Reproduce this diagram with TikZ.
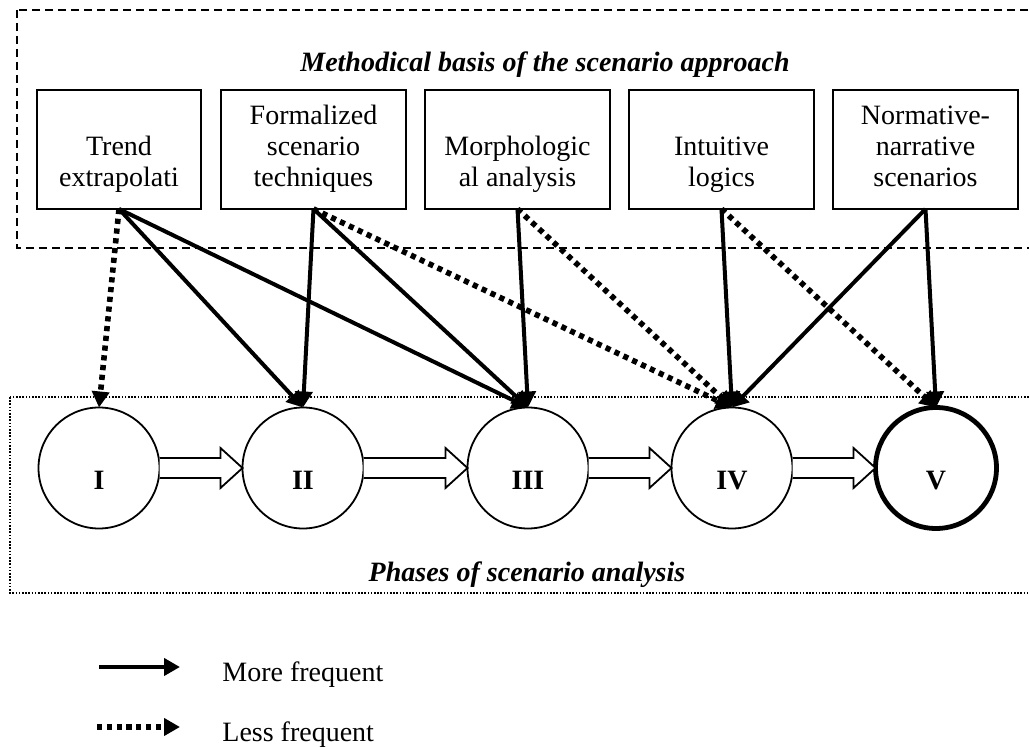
\documentclass[tikz,border=0pt]{standalone}
\usepackage{fontspec}
\setmainfont{Liberation Serif}
\usetikzlibrary{arrows.meta,calc}

% hollow flow arrow from the east side of one phase to the west side of the next
\newcommand\flowarrow[2]{%
  \filldraw[flow] ($(#1.east)+(0,-10)$) -- ($(#2.west)+(-22,-10)$)
    -- ($(#2.west)+(-22,-20)$) -- (#2.west) -- ($(#2.west)+(-22,20)$)
    -- ($(#2.west)+(-22,10)$) -- ($(#1.east)+(0,10)$);}

\begin{document}
\begin{tikzpicture}[x=0.5pt,y=-0.5pt,
  basefont/.style={font=\fontsize{14}{15.5}\selectfont},
  heading/.style={font=\fontsize{14}{15.5}\selectfont\bfseries\itshape,anchor=base,inner sep=0pt},
  method/.style={draw,line width=0.8pt,minimum width=92.5pt,minimum height=59.5pt,
    inner sep=0pt,outer sep=0pt,align=center,font=\fontsize{14}{15.5}\selectfont},
  phase/.style={circle,draw,fill=white,line width=0.9pt,minimum size=60.5pt,
    inner sep=0pt,outer sep=0pt},
  numeral/.style={font=\fontsize{14}{15.5}\selectfont\bfseries,anchor=base,inner sep=0pt},
  often/.style={line width=2pt,-{Triangle[length=8pt,width=8.5pt]}},
  seldom/.style={line width=2.8pt,dash pattern=on 2.6pt off 2.3pt,-{Triangle[length=8pt,width=8.5pt]}},
  flow/.style={draw,fill=white,line width=0.9pt},
  outerframe/.style={line width=0.75pt,dash pattern=on 4pt off 2.5pt},
  innerframe/.style={line width=0.8pt,dash pattern=on 0.8pt off 0.8pt},
]
\useasboundingbox (0,0) rectangle (1029,747);
\clip (0,0) rectangle (1029,747);

% frames of the two levels
\draw[outerframe] (17,10) rectangle (1045,248);
\draw[innerframe] (10,397) rectangle (1045,593);

\node[heading] (topic) at (545,72) {Methodical basis of the scenario approach};
\node[heading] (phases) at (527,582) {Phases of scenario analysis};

% methods
\node[method,minimum width=82pt] (b1) at (119,149.5) {\strut\\\strut Trend\\\strut extrapolati};
\node[method] (b2) at (313.5,149.5) {\strut Formalized\\\strut scenario\\\strut techniques};
\node[method] (b3) at (517.5,149.5) {\strut\\\strut Morphologic\\\strut al analysis};
\node[method] (b4) at (721.5,149.5) {\strut\\\strut Intuitive\\\strut logics};
\node[method] (b5) at (925.5,149.5) {\strut Normative-\\\strut narrative\\\strut scenarios};

% phases
\node[phase] (c1) at (99,468) {};
\node[phase] (c2) at (303,468) {};
\node[phase] (c3) at (528,468) {};
\node[phase] (c4) at (732,468) {};
\node[phase,line width=2.4pt] (c5) at (936,468) {};

\node[numeral] (n1) at ($(c1.center)+(0,22)$) {I};
\node[numeral] (n2) at ($(c2.center)+(0,22)$) {II};
\node[numeral] (n3) at ($(c3.center)+(0,22)$) {III};
\node[numeral] (n4) at ($(c4.center)+(0,22)$) {IV};
\node[numeral] (n5) at ($(c5.center)+(0,22)$) {V};

\flowarrow{c1}{c2}
\flowarrow{c2}{c3}
\flowarrow{c3}{c4}
\flowarrow{c4}{c5}

% links from methods to phases
\draw[seldom] (b1.south) -- (c1.north);
\draw[often]  (b1.south) -- (c2.north);
\draw[often]  (b1.south) -- (c3.north);
\draw[often]  (b2.south) -- (c2.north);
\draw[often]  (b2.south) -- (c3.north);
\draw[seldom] (b2.south) -- (c4.north);
\draw[often]  (b3.south) -- (c3.north);
\draw[seldom] (b3.south) -- (c4.north);
\draw[often]  (b4.south) -- (c4.north);
\draw[seldom] (b4.south) -- (c5.north);
\draw[often]  (b5.south) -- (c4.north);
\draw[often]  (b5.south) -- (c5.north);

% legend
\coordinate (ms) at (99,667);
\coordinate (me) at (180,667);
\coordinate (ls) at (97,727);
\coordinate (le) at (180,727);
\draw[often] (ms) -- (me);
\draw[seldom] (ls) -- (le);
\node[basefont,anchor=base west,inner sep=0pt] (more) at (222,682) {More frequent};
\node[basefont,anchor=base west,inner sep=0pt] (less) at (222,742) {Less frequent};
\end{tikzpicture}
\end{document}
